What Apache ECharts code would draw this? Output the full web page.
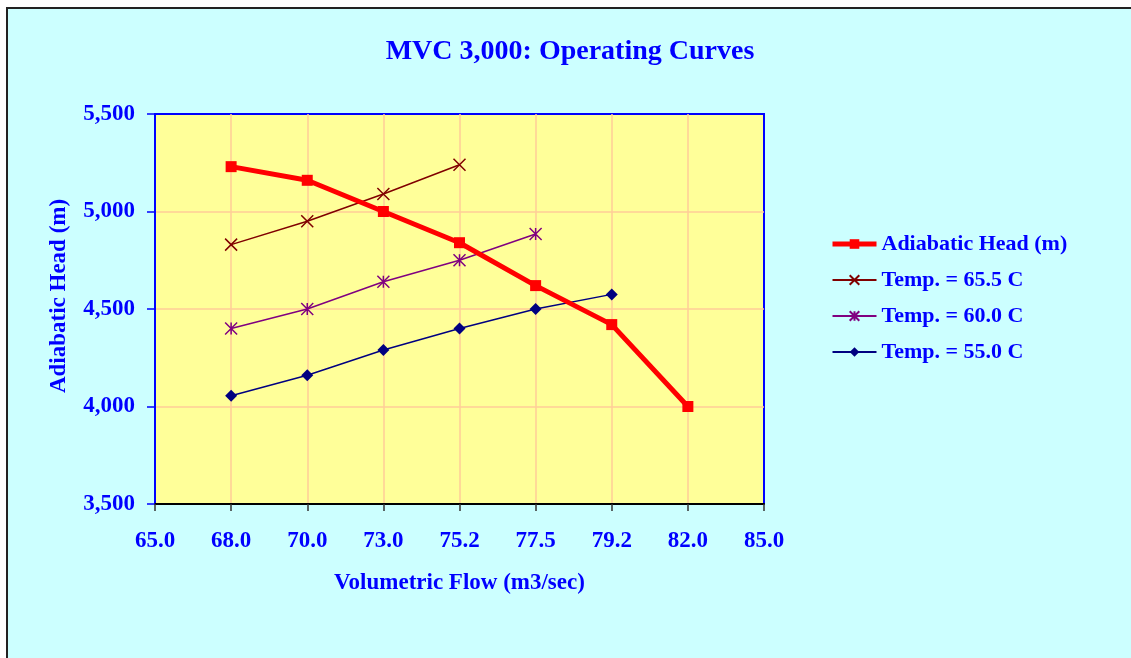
<!DOCTYPE html>
<html>
<head>
<meta charset="utf-8">
<script src="https://cdn.jsdelivr.net/npm/echarts@6/dist/echarts.min.js"></script>
<style>
html,body{margin:0;padding:0;background:#fff;}
#c{width:1131px;height:658px;}
</style>
</head>
<body>
<div id="c"></div>
<script>
var categories = ['65.0','68.0','70.0','73.0','75.2','77.5','79.2','82.0','85.0'];
var adiabaticHead = [null, 5230, 5160, 5000, 4840, 4620, 4420, 4000, null];
var temp655 = [null, 4830, 4950, 5090, 5240, null, null, null, null];
var temp600 = [null, 4400, 4500, 4640, 4750, 4885, null, null, null];
var temp550 = [null, 4055, 4160, 4290, 4400, 4500, 4575, null, null];
var seriesNames = ['Adiabatic Head (m)', 'Temp. = 65.5 C', 'Temp. = 60.0 C', 'Temp. = 55.0 C'];

var FONT = '"Liberation Serif", "Times New Roman", serif';
var BLUE = '#0000FF';
var chart = echarts.init(document.getElementById('c'));
chart.setOption({
  backgroundColor: '#ffffff',
  animation: false,
  graphic: [{
    type: 'rect', z: -10, silent: true,
    shape: {x: 7, y: 8, width: 1200, height: 700},
    style: {fill: '#CCFFFF', stroke: '#222222', lineWidth: 2}
  }],
  title: {
    text: 'MVC 3,000: Operating Curves',
    left: 565, top: 33, textAlign: 'center',
    textStyle: {fontFamily: FONT, fontWeight: 'bold', fontSize: 28, color: BLUE}
  },
  grid: {
    left: 155, top: 114, width: 609, height: 390,
    show: true, backgroundColor: '#FFFF99', borderColor: BLUE, borderWidth: 2
  },
  legend: {
    orient: 'vertical', left: 825, top: 228,
    itemWidth: 44, itemHeight: 12, itemGap: 14,
    textStyle: {fontFamily: FONT, fontWeight: 'bold', fontSize: 22, color: BLUE},
    data: [
      {name: seriesNames[0], lineStyle: {width: 5}},
      {name: seriesNames[1]},
      {name: seriesNames[2]},
      {name: seriesNames[3]}
    ]
  },
  xAxis: {
    type: 'category', data: categories, boundaryGap: false,
    name: 'Volumetric Flow (m3/sec)', nameLocation: 'middle', nameGap: 68,
    nameTextStyle: {fontFamily: FONT, fontWeight: 'bold', fontSize: 23, color: BLUE},
    axisLine: {lineStyle: {color: '#000000', width: 2}},
    axisTick: {show: true, length: 7, lineStyle: {color: '#333333', width: 1.5}},
    axisLabel: {fontFamily: FONT, fontWeight: 'bold', fontSize: 23, color: BLUE, margin: 26, interval: 0},
    splitLine: {show: true, showMinLine: false, showMaxLine: false, lineStyle: {color: '#FFCC99', width: 1.5}}
  },
  yAxis: {
    type: 'value', min: 3500, max: 5500, interval: 500,
    name: 'Adiabatic Head (m)', nameLocation: 'middle', nameGap: 84,
    nameTextStyle: {fontFamily: FONT, fontWeight: 'bold', fontSize: 23, color: BLUE, padding: [0, 0, 0, 26]},
    axisLine: {show: true, lineStyle: {color: BLUE, width: 2}},
    axisTick: {show: true, length: 8, lineStyle: {color: BLUE, width: 1.5}},
    axisLabel: {
      fontFamily: FONT, fontWeight: 'bold', fontSize: 23, color: BLUE, margin: 20,
      formatter: function (v) { return v.toLocaleString('en-US'); }
    },
    splitLine: {show: true, showMinLine: false, showMaxLine: false, lineStyle: {color: '#FFCC99', width: 1.5}}
  },
  series: [
    {
      name: seriesNames[0], type: 'line', data: adiabaticHead, z: 5,
      symbol: 'rect', symbolSize: 11,
      lineStyle: {color: '#FF0000', width: 5},
      itemStyle: {color: '#FF0000'}
    },
    {
      name: seriesNames[1], type: 'line', data: temp655, z: 4,
      symbol: 'path://M0,0L10,10M10,0L0,10', symbolSize: 12, symbolKeepAspect: true,
      lineStyle: {color: '#800000', width: 1.5},
      itemStyle: {color: 'none', borderColor: '#800000', borderWidth: 1.5}
    },
    {
      name: seriesNames[2], type: 'line', data: temp600, z: 4,
      symbol: 'path://M0,0L10,10M10,0L0,10M5,0L5,10', symbolSize: 12, symbolKeepAspect: true,
      lineStyle: {color: '#800080', width: 1.5},
      itemStyle: {color: 'none', borderColor: '#800080', borderWidth: 1.5}
    },
    {
      name: seriesNames[3], type: 'line', data: temp550, z: 4,
      symbol: 'diamond', symbolSize: 12,
      lineStyle: {color: '#000080', width: 1.5},
      itemStyle: {color: '#000080'}
    }
  ]
});
</script>
</body>
</html>
